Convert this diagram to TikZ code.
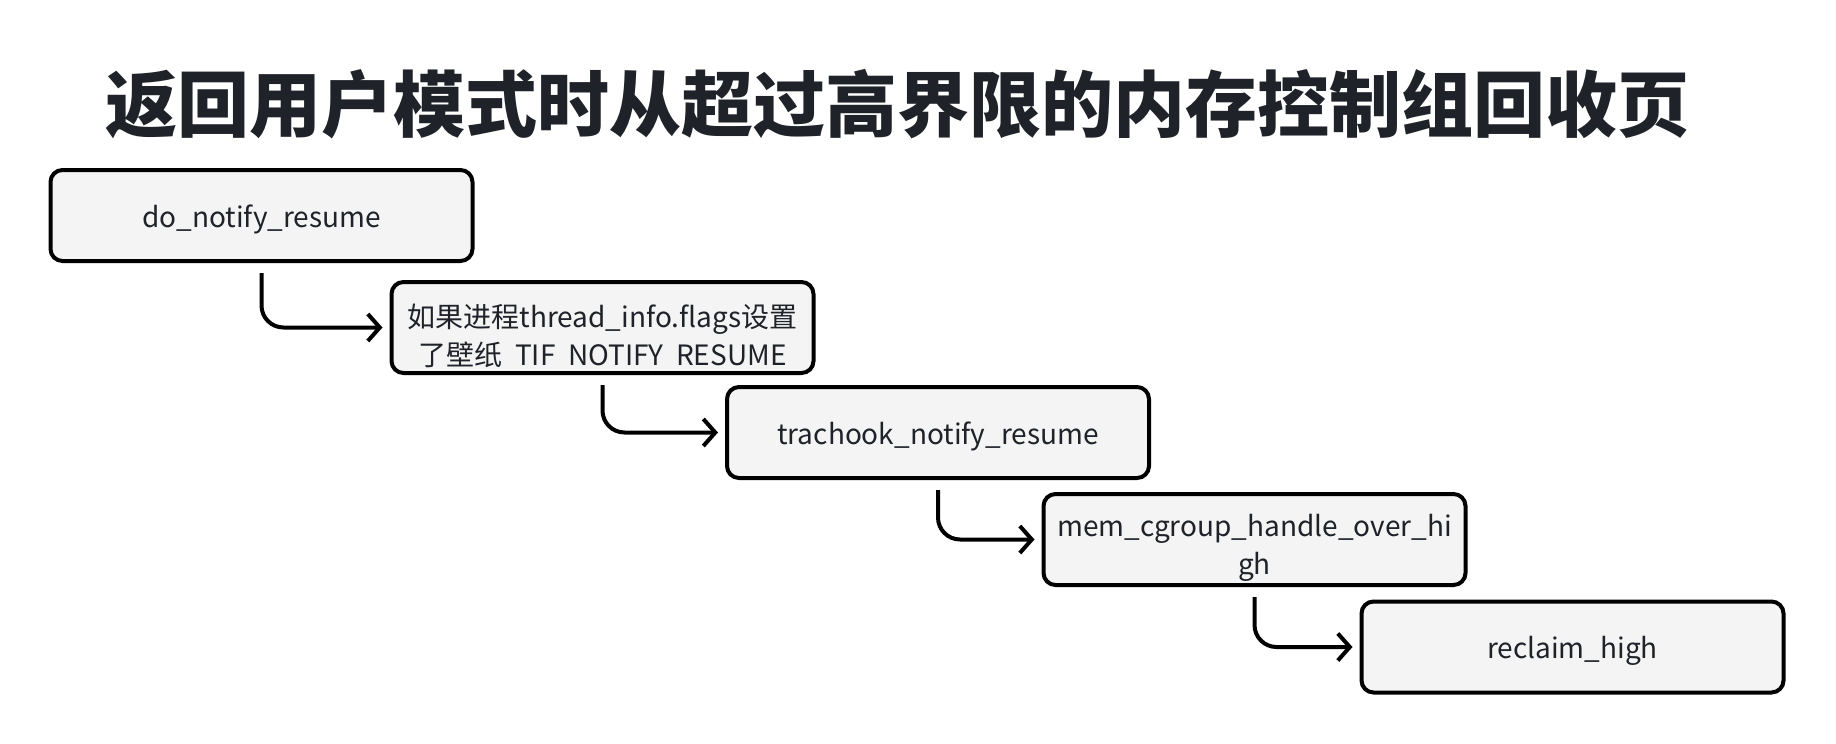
\documentclass[tikz,border=0pt]{standalone}
\usepackage{fontspec}
\setmainfont{Noto Sans CJK SC}
\usetikzlibrary{arrows.meta}
\definecolor{ink}{HTML}{1F2329}
\definecolor{boxfill}{HTML}{F4F4F4}
\tikzset{
  fbox/.style={draw=black, line width=4pt, fill=boxfill, rounded corners=12pt,
    minimum width=422pt, minimum height=91pt, inner sep=0pt},
  btext/.style={text=ink, font=\fontsize{28}{38}\selectfont, align=center},
  intext/.style 2 args={path picture={\node[btext] at ([yshift=#1]path picture bounding box.center) {#2};}},
  conn/.style={draw=black, line width=4pt, rounded corners=22pt,
    -{Straight Barb[length=12pt,width=27pt,line width=4pt]}},
}
\begin{document}
\begin{tikzpicture}[x=1pt,y=-1pt]
\useasboundingbox[fill=white] (0,0) rectangle (1836,744);
\node[text=ink, font=\fontsize{72}{80}\selectfont\bfseries] (title) at (897,104) {返回用户模式时从超过高界限的内存控制组回收页};
\node[fbox, intext={-4pt}{do\_notify\_resume}] (b1) at (261.5,215.5) {};
\node[fbox, intext={-8pt}{如果进程thread\_info.flags设置\\了壁纸\ \ TIF\ \ NOTIFY\ \ RESUME}] (b2) at (602.5,327.5) {};
\node[fbox, intext={-4pt}{trachook\_notify\_resume}] (b3) at (938,432.5) {};
\node[fbox, intext={-8pt}{mem\_cgroup\_handle\_over\_hi\\gh}] (b4) at (1254.5,539.5) {};
\node[fbox, intext={-4pt}{reclaim\_high}] (b5) at (1572.5,647) {};
\draw[conn] ([yshift=-10pt]b1.south) |- ([xshift=-7pt]b2.west);
\draw[conn] ([yshift=-10pt]b2.south) |- ([xshift=-7pt]b3.west);
\draw[conn] ([yshift=-10pt]b3.south) |- ([xshift=-7pt]b4.west);
\draw[conn] ([yshift=-10pt]b4.south) |- ([xshift=-7pt]b5.west);
\end{tikzpicture}
\end{document}
